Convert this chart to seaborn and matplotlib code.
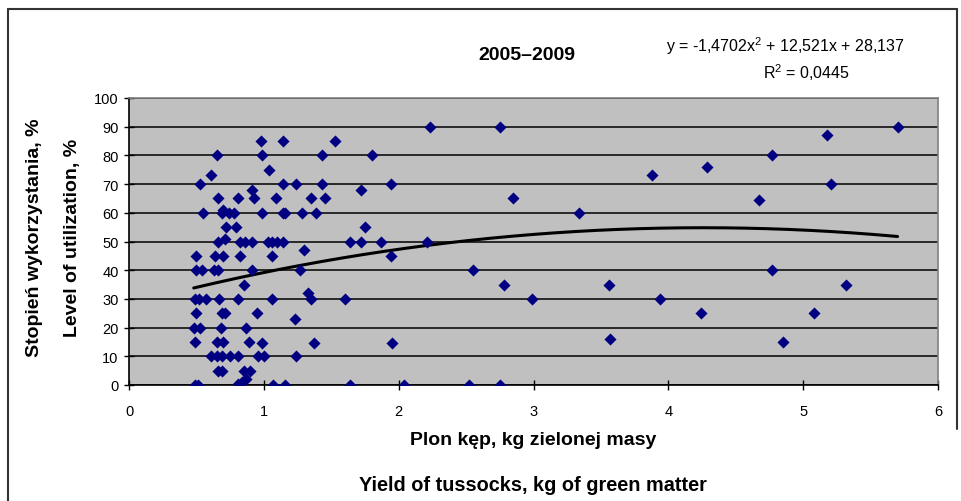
import numpy as np
import pandas as pd
import seaborn as sns
import matplotlib.pyplot as plt
from matplotlib.lines import Line2D

# Yield of tussocks (kg of green matter) vs level of utilization (%), 2005-2009
yield_kg = [
    0.98, 1.14, 0.65, 0.99, 1.04, 0.61, 0.53, 1.14, 1.24, 0.91, 0.93, 0.66, 0.81, 1.09,
    0.55, 0.70, 0.69, 0.74, 0.78, 0.99, 1.14, 1.16, 1.28, 0.72, 0.79, 0.66, 0.71, 0.82,
    0.86, 0.91, 1.03, 1.06, 1.10, 1.14, 0.50, 0.64, 0.70, 0.82, 1.06,
    0.50, 0.54, 0.63, 0.66, 0.91, 1.27, 0.85, 0.49, 0.52, 0.57, 0.67, 0.81, 1.06,
    0.50, 0.69, 0.71, 0.95, 1.23, 0.48, 0.53, 0.68, 0.87, 0.49, 0.65, 0.70, 0.89, 0.99,
    0.61, 0.65, 0.69, 0.75, 0.81, 0.96, 1.00, 1.24, 0.66, 0.69, 0.85, 0.90, 0.87, 0.81,
    0.84, 0.49, 0.51, 1.07, 1.16,
    1.53, 1.43, 1.80, 1.43, 1.72, 1.94, 1.35, 1.45, 1.39, 1.75, 1.64, 1.72, 1.87, 1.30,
    1.94, 1.33, 1.35, 1.60, 1.37, 1.95, 1.64, 2.04,
    2.23, 2.75, 2.85, 3.34, 2.21, 2.55, 2.78, 2.99, 3.56, 3.57, 2.52, 2.75,
    5.70, 5.18, 4.77, 4.29, 3.88, 5.21, 4.67, 4.77, 5.32, 3.94, 4.24, 5.08, 4.85,
]
utilization = [
    85, 85, 80, 80, 75, 73, 70, 70, 70, 68, 65, 65, 65, 65,
    60, 61, 60, 60, 60, 60, 60, 60, 60, 55, 55, 50, 51, 50,
    50, 50, 50, 50, 50, 50, 45, 45, 45, 45, 45,
    40, 40, 40, 40, 40, 40, 35, 30, 30, 30, 30, 30, 30,
    25, 25, 25, 25, 23, 20, 20, 20, 20, 15, 15, 15, 15, 14.5,
    10, 10, 10, 10, 10, 10, 10, 10, 5, 5, 5, 5, 2, 0.5,
    1, 0, 0, 0, 0,
    85, 80, 80, 70, 68, 70, 65, 65, 60, 55, 50, 50, 50, 47,
    45, 32, 30, 30, 14.5, 14.5, 0, 0,
    90, 90, 65, 60, 50, 40, 35, 30, 35, 16, 0, 0,
    90, 87, 80, 76, 73, 70, 64.5, 40, 35, 30, 25, 25, 15,
]
# polynomial trend shown on the chart
trend_coef = [-1.4702, 12.521, 28.137]
trend_eq = "y = -1,4702x$^2$ + 12,521x + 28,137"
trend_r2 = "R$^2$ = 0,0445"
title = "2005–2009"
x_ticks = [0, 1, 2, 3, 4, 5, 6]
y_ticks = list(range(0, 101, 10))

df = pd.DataFrame({"yield": yield_kg, "util": utilization})
tx = np.linspace(min(yield_kg), max(yield_kg), 200)
trend = pd.DataFrame({"yield": tx, "util": np.polyval(trend_coef, tx)})

sns.set_style("ticks")
plt.rcParams['font.family'] = ['Liberation Sans', 'DejaVu Sans']
plt.rcParams['mathtext.fontset'] = 'custom'
plt.rcParams['mathtext.rm'] = 'Liberation Sans'
plt.rcParams['text.color'] = 'black'

fig = plt.figure(figsize=(9.62, 5.02), dpi=100)
ax = fig.add_axes([129/962, 1-386/502, (938-129)/962, (386-99)/502])
ax.set_facecolor('#C0C0C0')

ax.set_axisbelow(True)
ax.yaxis.grid(True, color='black', linewidth=1.1)
ax.xaxis.grid(False)

sns.lineplot(data=trend, x="yield", y="util", color='black', linewidth=2.2, ax=ax, zorder=2)
sns.scatterplot(data=df, x="yield", y="util", marker='D', s=38, color='#000080',
                linewidth=0, ax=ax, zorder=3)

ax.set_xlim(0, 6)
ax.set_ylim(0, 100)
ax.set_xticks(x_ticks)
ax.set_yticks(y_ticks)
ax.tick_params(direction='inout', length=7, width=1, colors='black', labelcolor='black',
               labelsize=10.5)
ax.tick_params(axis='x', pad=10)
ax.tick_params(axis='y', pad=4)

for s in ['left', 'bottom']:
    ax.spines[s].set_color('black')
    ax.spines[s].set_linewidth(1.2)
for s in ['top', 'right']:
    ax.spines[s].set_color('#808080')
    ax.spines[s].set_linewidth(1.2)

ax.set_xlabel("")
ax.set_ylabel("")

# axis titles, two lines each (Polish / English)
fig.text(533/962, 1-441/502, "Plon kęp, kg zielonej masy", ha='center', va='center',
         fontsize=14, fontweight='bold')
fig.text(533/962, 1-486/502, "Yield of tussocks, kg of green matter", ha='center', va='center',
         fontsize=14.3, fontweight='bold')
fig.text(35/962, 1-238/502, "Stopień wykorzystania, %", ha='center', va='center',
         rotation=90, fontsize=14, fontweight='bold')
fig.text(72/962, 1-238/502, "Level of utilization, %", ha='center', va='center',
         rotation=90, fontsize=14, fontweight='bold')

fig.text(527/962, 1-55/502, title, ha='center', va='center', fontsize=14, fontweight='bold')
fig.text(785/962, 1-46/502, trend_eq, ha='center', va='center', fontsize=11.5)
fig.text(806/962, 1-73/502, trend_r2, ha='center', va='center', fontsize=11.5)

# outer chart frame
fig.add_artist(Line2D([8/962, 8/962], [0, 1-10/502], color='#333333', linewidth=1.5,
                      transform=fig.transFigure))
fig.add_artist(Line2D([8/962, 957/962], [1-10/502, 1-10/502], color='#333333', linewidth=1.5,
                      transform=fig.transFigure))
fig.add_artist(Line2D([957/962, 957/962], [1-10/502, 1-430/502], color='#333333', linewidth=1.5,
                      transform=fig.transFigure))

fig.savefig("out.png", dpi=100)
